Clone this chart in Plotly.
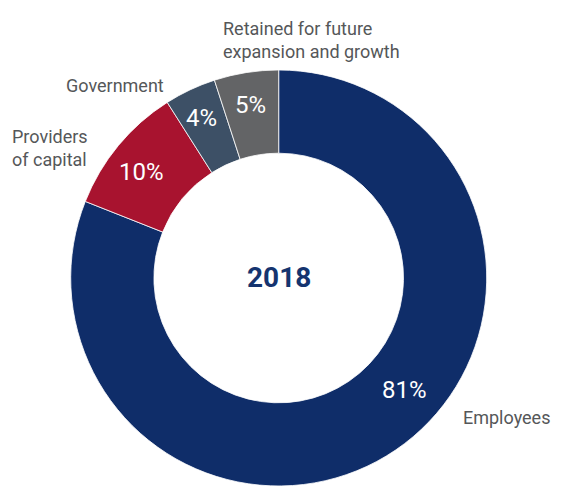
import plotly.graph_objects as go

# Distribution of value added, 2018
categories = ["Employees", "Providers of capital", "Government",
              "Retained for future expansion and growth"]
shares = [81, 10, 4, 5]
year_label = "2018"

slice_colors = ["#0F2D69", "#A8132F", "#3D5066", "#636466"]
label_color = "#555759"
FONT = "Roboto"

W, H = 561, 486

fig = go.Figure(
    go.Pie(
        labels=categories,
        values=shares,
        sort=False,
        direction="clockwise",
        rotation=0,
        hole=0.6,
        textinfo="none",
        marker=dict(colors=slice_colors, line=dict(color="white", width=0.8)),
        domain=dict(x=[70.7 / W, 486.7 / W], y=[0, 416 / H]),
        showlegend=False,
        hoverinfo="label+percent",
    )
)


def px(x, y):
    return dict(xref="paper", yref="paper", x=x / W, y=1 - y / H)


# where each share's percentage sits on its slice
pct_spots = [(404, 390), (141, 172), (201, 118), (250, 105)]

annotations = [
    # year in the centre of the ring
    dict(text=f"<b>{year_label}</b>", showarrow=False,
         font=dict(family=FONT, size=28, color="#15346F"),
         xanchor="center", yanchor="middle", **px(278.5, 277)),
]
for value, (sx, sy) in zip(shares, pct_spots):
    annotations.append(
        dict(text=f"{value}%", showarrow=False,
             font=dict(family=FONT, size=24, color="white"),
             xanchor="center", yanchor="middle", **px(sx, sy))
    )

# category names around the ring
annotations += [
    dict(text="Retained for future<br>expansion and growth", showarrow=False,
         align="left", font=dict(family=FONT, size=18, color=label_color),
         xanchor="left", yanchor="middle", **px(221, 40)),
    dict(text="Government", showarrow=False,
         font=dict(family=FONT, size=18, color=label_color),
         xanchor="left", yanchor="middle", **px(64, 86)),
    dict(text="Providers<br>of capital", showarrow=False, align="left",
         font=dict(family=FONT, size=18, color=label_color),
         xanchor="left", yanchor="middle", **px(10, 148)),
    dict(text="Employees", showarrow=False,
         font=dict(family=FONT, size=18, color=label_color),
         xanchor="left", yanchor="middle", **px(461, 417)),
]

fig.update_layout(
    width=W,
    height=H,
    margin=dict(l=0, r=0, t=0, b=0),
    paper_bgcolor="white",
    plot_bgcolor="white",
    font=dict(family=FONT),
    annotations=annotations,
)

fig.write_html("out.html")
